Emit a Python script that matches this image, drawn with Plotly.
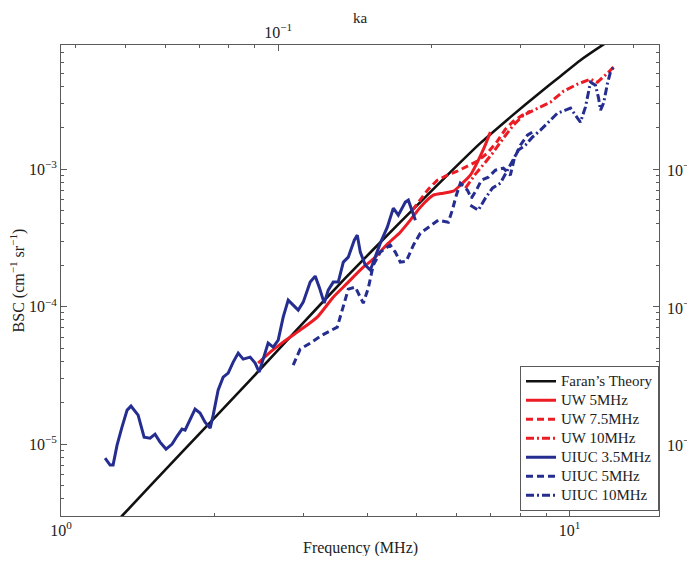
import math
import plotly.graph_objects as go

# ---------------- data ----------------
faran_f = [1.25, 1.318, 1.715, 2.355, 2.954, 3.623, 4.648, 5.832, 6.679, 7.652, 8.768, 9.601, 10.51, 11.61, 12.5]
faran_bsc = [2.43e-6, 3.0e-6, 8.46e-6, 2.92e-5, 7.22e-5, 1.612e-4, 4.116e-4, 9.51e-4, 1.546e-3, 2.39e-3,
             3.631e-3, 4.747e-3, 6.204e-3, 7.98e-3, 9.5e-3]

uw5_f = [2.442, 2.579, 2.735, 2.954, 3.191, 3.431, 3.656, 3.931, 4.113, 4.383, 4.648, 4.864, 5.090, 5.398,
         5.649, 5.910, 6.101, 6.384, 6.620, 6.802, 6.989]
uw5_bsc = [3.882e-5, 4.667e-5, 5.518e-5, 6.748e-5, 8.388e-5, 1.172e-4, 1.482e-4, 1.938e-4, 2.216e-4, 2.848e-4,
           3.481e-4, 4.257e-4, 5.291e-4, 6.468e-4, 6.690e-4, 6.918e-4, 7.649e-4, 9.04e-4, 1.163e-3, 1.445e-3,
           1.859e-3]

uw75_f = [4.909, 5.090, 5.277, 5.497, 5.752, 6.019, 6.299, 6.590, 6.895, 7.216, 7.482, 7.758, 8.080, 8.379]
uw75_bsc = [5.03e-4, 5.95e-4, 7.15e-4, 8.318e-4, 9.04e-4, 9.67e-4, 1.051e-3, 1.144e-3, 1.307e-3, 1.598e-3,
            1.954e-3, 2.234e-3, 2.470e-3, 2.641e-3]

uw10_f = [6.243, 6.531, 6.833, 7.085, 7.414, 7.758, 8.116, 8.650, 9.175, 9.732, 10.37, 11.00, 11.35, 11.88, 12.21]
uw10_bsc = [7.27e-4, 9.20e-4, 1.124e-3, 1.329e-3, 1.681e-3, 2.089e-3, 2.470e-3, 2.777e-3, 3.072e-3, 3.693e-3,
            4.152e-3, 4.513e-3, 4.292e-3, 4.992e-3, 5.518e-3]

uiuc35_f = [1.221, 1.249, 1.266, 1.289, 1.318, 1.349, 1.373, 1.418, 1.457, 1.497,
            1.531, 1.566, 1.609, 1.654, 1.692, 1.730, 1.754, 1.794, 1.835, 1.877,
            1.920, 1.965, 1.992, 2.037, 2.084, 2.132, 2.181, 2.231, 2.282, 2.355,
            2.409, 2.453, 2.509, 2.555, 2.614, 2.674, 2.735, 2.798, 2.862, 2.928,
            2.995, 3.091, 3.162, 3.220, 3.294, 3.354, 3.431, 3.510, 3.591, 3.673,
            3.774, 3.826, 3.878, 3.967, 4.058, 4.151, 4.246, 4.383, 4.504, 4.607,
            4.756, 4.821, 4.932, 4.977]
uiuc35_bsc = [7.91e-6, 7.04e-6, 7.04e-6, 9.83e-6, 1.329e-5, 1.768e-5, 1.890e-5, 1.625e-5, 1.124e-5, 1.105e-5,
              1.182e-5, 1.034e-5, 9.20e-6, 1.0e-5, 1.144e-5, 1.285e-5, 1.264e-5, 1.520e-5, 1.797e-5, 1.681e-5,
              1.445e-5, 1.307e-5, 1.625e-5, 2.470e-5, 3.072e-5, 3.284e-5, 3.948e-5, 4.590e-5, 4.151e-5, 4.292e-5,
              3.882e-5, 3.339e-5, 4.365e-5, 5.426e-5, 5.075e-5, 5.706e-5, 8.388e-5, 1.115e-4, 1.025e-4, 9.43e-5,
              1.078e-4, 1.508e-4, 1.667e-4, 1.386e-4, 1.060e-4, 1.318e-4, 1.508e-4, 1.508e-4, 2.107e-4, 2.291e-4,
              3.045e-4, 3.311e-4, 2.491e-4, 2.003e-4, 1.842e-4, 2.291e-4, 2.896e-4, 3.787e-4, 5.204e-4, 4.628e-4,
              5.754e-4, 5.950e-4, 4.786e-4, 4.257e-4]

uiuc5_f = [2.862, 2.954, 3.091, 3.264, 3.494, 3.591, 3.673, 3.791, 3.931, 4.021, 4.113, 4.246, 4.443, 4.545,
           4.648, 4.777, 4.932, 5.090, 5.277, 5.522, 5.778, 5.883, 5.991, 6.101, 6.299, 6.413, 6.560, 6.711,
           6.928, 7.150, 7.414, 7.652, 7.793, 8.007, 8.266, 8.572]
uiuc5_bsc = [3.754e-5, 4.906e-5, 5.426e-5, 6.204e-5, 7.094e-5, 9.92e-5, 1.341e-4, 1.386e-4, 1.060e-4, 1.363e-4,
             2.003e-4, 2.491e-4, 2.801e-4, 2.491e-4, 2.107e-4, 2.142e-4, 2.801e-4, 3.424e-4, 3.787e-4, 4.257e-4,
             4.116e-4, 5.03e-4, 6.468e-4, 7.91e-4, 7.04e-4, 6.152e-4, 7.04e-4, 8.318e-4, 8.74e-4, 9.83e-4,
             1.017e-3, 9.04e-4, 1.202e-3, 1.495e-3, 1.768e-3, 1.921e-3]

uiuc10_f = [6.384, 6.620, 6.833, 7.053, 7.314, 7.551, 7.758, 7.935, 8.192, 8.455, 8.768, 9.051, 9.471, 9.820,
            10.05, 10.37, 10.51, 10.75, 11.00, 11.25, 11.41, 11.51, 11.67, 11.88, 12.04, 12.27]
uiuc10_bsc = [5.47e-4, 5.03e-4, 6.152e-4, 7.27e-4, 7.91e-4, 9.83e-4, 1.163e-3, 1.375e-3, 1.495e-3, 1.709e-3,
              1.921e-3, 2.161e-3, 2.555e-3, 2.686e-3, 2.777e-3, 2.349e-3, 2.197e-3, 2.824e-3, 4.292e-3, 4.082e-3,
              3.284e-3, 2.686e-3, 3.020e-3, 4.221e-3, 5.075e-3, 5.706e-3]

legend_names = ["Faran’s Theory", "UW 5MHz", "UW 7.5MHz", "UW 10MHz", "UIUC 3.5MHz", "UIUC 5MHz", "UIUC 10MHz"]

x_tickvals = [1, 10]
x_ticktext = ["10<sup>0</sup>", "10<sup>1</sup>"]
y_tickvals = [1e-5, 1e-4, 1e-3]
y_ticktext = ["10<sup>−5</sup>", "10<sup>−4</sup>", "10<sup>−3</sup>"]
ka_tickvals = [0.1]
ka_ticktext = ["10<sup>−1</sup>"]
ka_per_mhz = 0.0374

# ---------------- styling ----------------
RED = "#EC1C24"
BLUE = "#252E90"
BLACK = "#111111"
AX = "#5a5a5a"
FONT = "Liberation Serif"
TXT = "#222222"

fig = go.Figure()

series = [
    (faran_f, faran_bsc, BLACK, "solid", 2.6, "spline"),
    (uw5_f, uw5_bsc, RED, "solid", 3, "spline"),
    (uw75_f, uw75_bsc, RED, "7px,4px", 3, "linear"),
    (uw10_f, uw10_bsc, RED, "8px,3px,2px,3px", 3, "linear"),
    (uiuc35_f, uiuc35_bsc, BLUE, "solid", 3, "linear"),
    (uiuc5_f, uiuc5_bsc, BLUE, "7px,4px", 3, "linear"),
    (uiuc10_f, uiuc10_bsc, BLUE, "8px,3px,2px,3px", 3, "linear"),
]
for (xs, ys, col, dash, w, shape), name in zip(series, legend_names):
    line = dict(color=col, dash=dash, width=w, shape=shape)
    if shape == "spline":
        line["smoothing"] = 0.6
    # legend rows are compact (small base font) while the label itself is drawn at 15px
    fig.add_trace(go.Scatter(x=xs, y=ys, mode="lines", line=line,
                             name='<span style="font-size:15px">' + name + '</span>'))

# invisible trace that carries the top (ka) and right axes
fig.add_trace(go.Scatter(x=[ka_per_mhz * 2], y=[1e-4], xaxis="x2", yaxis="y2", mode="markers",
                         marker=dict(opacity=0), showlegend=False, hoverinfo="skip"))

xmin, xmax = 1.0, 15.0
ymin, ymax = 3.0e-6, 8.0e-3
lx = [math.log10(xmin), math.log10(xmax)]
ly = [math.log10(ymin), math.log10(ymax)]
lka = [math.log10(ka_per_mhz * xmin), math.log10(ka_per_mhz * xmax)]

y_minor = [m * 10.0 ** e for e in (-6, -5, -4, -3) for m in range(2, 10)]
x_minor = list(range(2, 10))
ka_minor = [0.04, 0.05, 0.06, 0.07, 0.08, 0.09, 0.2, 0.3, 0.4, 0.5]

common = dict(showgrid=False, zeroline=False, showline=True, linecolor=AX, linewidth=1,
              ticks="inside", ticklen=6, tickcolor=AX, tickwidth=1, automargin=False,
              tickfont=dict(family=FONT, size=16, color=TXT))
minor_style = dict(ticks="inside", ticklen=3, tickcolor=AX, tickmode="array")

# the page body adds an 8px margin, so the figure is 8px smaller than the window on each used side
fig.update_layout(
    width=687, height=548,
    margin=dict(l=53, r=36, t=37, b=40),
    paper_bgcolor="white", plot_bgcolor="white",
    font=dict(family=FONT, size=16, color=TXT),
    xaxis=dict(type="log", range=lx, tickmode="array", tickvals=x_tickvals, ticktext=x_ticktext,
               minor=dict(tickvals=x_minor, **minor_style), **common),
    yaxis=dict(type="log", range=ly, tickmode="array", tickvals=y_tickvals, ticktext=y_ticktext,
               minor=dict(tickvals=y_minor, **minor_style), **common),
    xaxis2=dict(type="log", range=lka, overlaying="x", side="top", anchor="y",
                tickmode="array", tickvals=ka_tickvals, ticktext=ka_ticktext,
                minor=dict(tickvals=ka_minor, **minor_style), **common),
    yaxis2=dict(type="log", range=ly, overlaying="y", side="right", anchor="x",
                tickmode="array", tickvals=y_tickvals, ticktext=y_ticktext, showticklabels=False,
                minor=dict(tickvals=y_minor, **minor_style), **common),
    legend=dict(x=1, xanchor="right", y=0.011, yanchor="bottom", bgcolor="white",
                bordercolor=AX, borderwidth=1, font=dict(family=FONT, size=11, color=TXT),
                tracegroupgap=0, itemwidth=30),
    showlegend=True,
)

# right-hand tick labels (same values as the left axis), just outside the right frame
for v, t in zip(y_tickvals, y_ticktext):
    fig.add_annotation(text=t, xref="paper", yref="y2", x=1, y=math.log10(v), xanchor="left",
                       yanchor="middle", xshift=6, showarrow=False,
                       font=dict(family=FONT, size=16, color=TXT))

# axis titles
fig.add_annotation(text="Frequency (MHz)", xref="paper", yref="paper", x=0.5, y=-0.068,
                   xanchor="center", yanchor="middle", showarrow=False,
                   font=dict(family=FONT, size=16, color=TXT))
fig.add_annotation(text="ka", xref="paper", yref="paper", x=0.5, y=1.0786,
                   xanchor="center", yanchor="top", showarrow=False,
                   font=dict(family=FONT, size=15, color=TXT))
fig.add_annotation(text="BSC (cm<sup>−1</sup> sr<sup>−1</sup>)", xref="paper", yref="paper",
                   x=-0.072, y=0.5, xanchor="center", yanchor="middle", textangle=-90, showarrow=False,
                   font=dict(family=FONT, size=16, color=TXT))

fig.write_html("out.html")
